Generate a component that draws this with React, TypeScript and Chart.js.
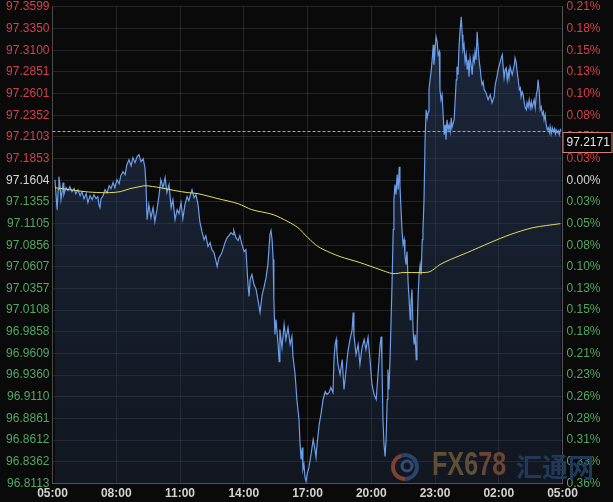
import React, { useEffect, useRef } from 'react';
import { Chart, registerables } from 'chart.js';

Chart.register(...registerables);

// minutes since 05:00
const TIMES = [7,10,13,16,18,21,24,27,30,32,38,44,49,55,61,66,72,78,83,89,95,100,106,112,117,123,128,131,134,137,143,148,154,160,165,171,176,182,188,193,199,205,210,216,222,227,233,239,244,250,256,261,264,267,272,278,284,289,295,301,306,312,318,323,329,335,340,346,352,357,363,368,374,380,385,391,394,400,405,411,416,422,428,433,439,445,450,456,462,465,470,476,481,487,493,498,504,510,512,518,524,529,535,541,546,549,552,555,558,563,569,575,580,586,592,597,603,608,611,614,617,620,623,625,628,631,637,640,642,648,654,659,665,671,676,679,685,690,696,699,702,705,707,710,713,716,719,724,730,736,741,744,747,753,758,764,770,775,781,786,792,795,798,801,803,806,812,818,823,829,834,840,846,849,851,857,863,868,874,880,885,891,897,902,908,914,919,925,928,930,933,936,939,942,945,947,950,953,956,959,962,964,967,970,973,976,979,981,984,987,990,993,995,998,1001,1004,1007,1010,1012,1015,1018,1021,1024,1027,1029,1032,1035,1038,1041,1044,1046,1049,1052,1055,1058,1061,1063,1066,1069,1072,1075,1077,1080,1083,1086,1089,1092,1094,1097,1100,1103,1106,1109,1111,1114,1117,1120,1123,1126,1128,1134,1137,1140,1142,1145,1148,1151,1154,1157,1159,1162,1165,1168,1171,1174,1176,1179,1182,1185,1188,1191,1193,1196,1199,1202,1205,1208,1210,1213,1216,1219,1224,1230,1236,1241,1247,1250,1253,1256,1258,1264,1267,1270,1272,1275,1278,1281,1284,1287,1289,1292,1298,1304,1306,1309,1312,1315,1318,1321,1323,1326,1329,1332,1335,1338,1340,1343,1346,1349,1352,1354,1357,1360,1363,1366,1369,1371,1374,1377,1380,1383,1386,1388,1391,1394,1397,1400,1403,1405,1408,1411,1414,1417,1420,1422,1425,1428,1431,1434,1436];

const PRICES = [97.1610,97.1438,97.1265,97.1495,97.1645,97.1553,97.1380,97.1472,97.1576,97.1438,97.1518,97.1484,97.1530,97.1472,97.1507,97.1449,97.1495,97.1426,97.1472,97.1392,97.1449,97.1346,97.1426,97.1380,97.1438,97.1392,97.1415,97.1323,97.1288,97.1392,97.1426,97.1495,97.1461,97.1541,97.1507,97.1576,97.1518,97.1610,97.1564,97.1656,97.1702,97.1668,97.1783,97.1840,97.1771,97.1863,97.1806,97.1875,97.1898,97.1817,97.1852,97.1748,97.1553,97.1150,97.1323,97.1173,97.1288,97.1127,97.1265,97.1438,97.1610,97.1518,97.1633,97.1461,97.1553,97.1288,97.1380,97.1150,97.1265,97.1219,97.1346,97.1162,97.1323,97.1415,97.1369,97.1461,97.1495,97.1403,97.1438,97.1323,97.1127,97.1012,97.0920,97.0966,97.0840,97.0886,97.0805,97.0771,97.0667,97.0610,97.0713,97.0748,97.0805,97.0886,97.0943,97.0966,97.1001,97.0978,97.1024,97.0943,97.0909,97.0966,97.0863,97.0782,97.0805,97.0610,97.0403,97.0265,97.0460,97.0518,97.0403,97.0345,97.0230,97.0081,97.0288,97.0368,97.0483,97.0633,97.0805,97.0978,97.1024,97.0920,97.0690,97.0230,96.9828,97.0000,96.9713,96.9517,96.9885,96.9678,96.9943,96.9770,96.9908,96.9713,96.9805,96.9575,96.9368,96.9080,96.8850,96.8563,96.8390,96.8528,96.8275,96.8333,96.8183,96.8137,96.8218,96.8298,96.8448,96.8620,96.8505,96.8413,96.8563,96.8793,96.8908,96.9080,96.9172,96.9138,96.9161,96.9218,96.9161,96.9563,96.9713,96.9770,96.9632,96.9483,96.9368,96.9540,96.9195,96.9425,96.9632,96.9770,96.9885,97.0081,96.9828,96.9598,96.9713,96.9483,96.9678,96.9770,96.9655,96.9793,96.9517,96.9253,96.9138,96.9080,96.9368,96.9713,96.9805,96.9540,96.8850,96.8563,96.8425,96.8620,96.9080,96.9425,96.9195,96.9540,97.0000,97.0460,97.1035,97.1380,97.1553,97.1438,97.1668,97.1495,97.1760,97.1553,97.1265,97.1012,97.0863,97.0920,97.0748,97.0633,97.0782,97.0426,97.0230,97.0000,97.0173,97.0345,96.9885,96.9713,96.9828,96.9540,96.9770,97.0230,97.0518,97.0633,97.0518,97.0920,97.1035,97.1380,97.2070,97.2415,97.2323,97.2392,97.2645,97.2760,97.2852,97.2990,97.3163,97.2933,97.3105,97.3255,97.3197,97.3048,97.3082,97.2645,97.2530,97.2588,97.2358,97.2128,97.2243,97.2070,97.2300,97.2185,97.2243,97.2162,97.2323,97.2208,97.2300,97.2530,97.2760,97.2910,97.2818,97.3163,97.3335,97.3485,97.3278,97.3105,97.3163,97.2967,97.3048,97.2875,97.2990,97.2795,97.3013,97.2933,97.2818,97.3025,97.2967,97.3082,97.2990,97.3312,97.3105,97.2967,97.2875,97.2783,97.2703,97.2737,97.2645,97.2611,97.2530,97.2588,97.2496,97.2565,97.2703,97.2760,97.2818,97.2875,97.2967,97.3013,97.3048,97.2933,97.2783,97.2875,97.2898,97.2760,97.2852,97.2783,97.2910,97.2818,97.2933,97.3013,97.2967,97.2852,97.2760,97.2645,97.2668,97.2565,97.2622,97.2588,97.2496,97.2438,97.2415,97.2496,97.2450,97.2530,97.2438,97.2507,97.2438,97.2484,97.2530,97.2438,97.2588,97.2645,97.2760,97.2645,97.2415,97.2450,97.2358,97.2392,97.2300,97.2358,97.2243,97.2185,97.2208,97.2151,97.2220,97.2139,97.2208,97.2162,97.2197,97.2139,97.2185,97.2151,97.2174,97.2128,97.2185,97.2171];

const MA_TIMES = [7,49,92,134,162,191,219,247,261,304,346,383,411,467,524,563,623,665,693,721,750,784,812,868,925,961,990,1038,1066,1094,1123,1171,1236,1292,1357,1434];
const MA_PRICES = [97.1518,97.1495,97.1472,97.1461,97.1461,97.1472,97.1507,97.1530,97.1541,97.1518,97.1484,97.1461,97.1449,97.1392,97.1334,97.1265,97.1208,97.1127,97.1058,97.0943,97.0840,97.0771,97.0725,97.0656,97.0575,97.0529,97.0541,97.0541,97.0552,97.0633,97.0690,97.0771,97.0886,97.0978,97.1058,97.1104];

const Y_TICKS = [96.8113,96.8362,96.8612,96.8861,96.9110,96.9360,96.9609,96.9858,97.0108,97.0357,97.0607,97.0856,97.1105,97.1355,97.1604,97.1853,97.2103,97.2352,97.2601,97.2851,97.3100,97.3350,97.3599];
const PCT_LABELS = ['0.36%','0.33%','0.31%','0.28%','0.26%','0.23%','0.21%','0.18%','0.15%','0.13%','0.10%','0.08%','0.05%','0.03%','0.00%','0.03%','0.05%','0.08%','0.10%','0.13%','0.15%','0.18%','0.21%'];
const X_TICKS = [0,180,360,540,720,900,1080,1260,1440];
const X_LABELS = ['05:00','08:00','11:00','14:00','17:00','20:00','23:00','02:00','05:00'];
const BASE_PRICE = 97.1604;
const LAST_PRICE = 97.2171;

const FONT = 'Arial, "Liberation Sans", sans-serif';
const RED = '#d4404e';
const GREEN = '#52a862';
const WHITE = '#d6d6d6';
const GRID = 'rgba(255,255,255,0.11)';
const CLEAR = 'rgba(0,0,0,0)';

const colorFor = (v: number) => (Math.abs(v - BASE_PRICE) < 1e-6 ? WHITE : v > BASE_PRICE ? RED : GREEN);

export default function App() {
  const ref = useRef<HTMLCanvasElement | null>(null);
  useEffect(() => {
    document.body.style.margin = '0';
    document.body.style.background = '#0a0a0a';
    const canvas = ref.current!;
    const bg = {
      id: 'bg',
      beforeDraw(chart: any) {
        const c = chart.ctx;
        c.save();
        c.fillStyle = '#0a0a0a';
        c.fillRect(0, 0, chart.width, chart.height);
        c.restore();
      },
    };
    const watermark = {
      id: 'watermark',
      beforeDatasetsDraw(chart: any) {
        const c = chart.ctx;
        c.save();
        c.lineWidth = 4;
        c.strokeStyle = '#2c4a74';
        c.beginPath();
        c.arc(405, 467, 12, -Math.PI * 0.6, Math.PI * 0.5);
        c.stroke();
        c.strokeStyle = '#a8461f';
        c.beginPath();
        c.arc(405, 467, 12, Math.PI * 0.5, Math.PI * 1.4);
        c.stroke();
        c.lineWidth = 3;
        c.strokeStyle = '#3a5a86';
        c.beginPath();
        c.arc(407, 466, 5, 0, Math.PI * 2);
        c.stroke();
        c.textBaseline = 'middle';
        c.textAlign = 'left';
        c.save();
        c.translate(432, 466);
        c.scale(0.74, 1);
        c.font = 'bold 34px ' + FONT;
        c.fillStyle = '#7c5a26';
        c.fillText('FX6', 0, 0);
        const w = c.measureText('FX6').width;
        c.fillStyle = '#8f4a22';
        c.fillText('78', w, 0);
        c.restore();
        c.font = 'bold 26px "Noto Sans CJK SC", sans-serif';
        c.fillStyle = '#213a5c';
        c.fillText('汇通网', 516, 467);
        c.restore();
      },
    };
    const lastPrice = {
      id: 'lastPrice',
      afterDatasetsDraw(chart: any) {
        const c = chart.ctx;
        const { left, right } = chart.chartArea;
        const y = Math.round(chart.scales.y.getPixelForValue(LAST_PRICE)) + 0.5;
        c.save();
        c.strokeStyle = '#ff8c36';
        c.lineWidth = 1;
        c.setLineDash([3, 2]);
        c.beginPath();
        c.moveTo(left, y);
        c.lineTo(right, y);
        c.stroke();
        c.setLineDash([]);
        c.fillStyle = '#050505';
        c.fillRect(right + 0.5, y + 1, 49, 20);
        c.strokeStyle = '#d98070';
        c.strokeRect(right + 0.5, y + 1, 49, 20);
        c.fillStyle = '#e4e4e4';
        c.font = '12px ' + FONT;
        c.textBaseline = 'middle';
        c.textAlign = 'left';
        c.fillText(LAST_PRICE.toFixed(4), right + 4, y + 11.5);
        c.restore();
      },
    };
    const chart = new Chart(canvas, {
      type: 'line',
      data: {
        datasets: [
          {
            label: 'MA',
            data: MA_TIMES.map((t, i) => ({ x: t, y: MA_PRICES[i] })),
            borderColor: '#e6dc5c',
            borderWidth: 1,
            pointRadius: 0,
            fill: false,
            tension: 0.3,
            yAxisID: 'y',
          },
          {
            label: 'Price',
            data: TIMES.map((t, i) => ({ x: t, y: PRICES[i] })),
            borderColor: '#6b9de8',
            borderWidth: 1.2,
            pointRadius: 0,
            tension: 0,
            fill: 'start',
            backgroundColor: (ctx: any) => {
              const ch = ctx.chart;
              const area = ch.chartArea;
              if (!area) return 'rgba(40,60,95,0.4)';
              const g = ch.ctx.createLinearGradient(0, area.top, 0, area.bottom);
              g.addColorStop(0, 'rgba(42,64,102,0.55)');
              g.addColorStop(1, 'rgba(36,54,86,0.3)');
              return g;
            },
            yAxisID: 'y',
          },
        ],
      },
      options: {
        responsive: false,
        animation: false,
        devicePixelRatio: 1,
        layout: { padding: 0 },
        plugins: { legend: { display: false }, tooltip: { enabled: false } },
        scales: {
          x: {
            type: 'linear',
            min: 0,
            max: 1440,
            afterBuildTicks: (s: any) => {
              s.ticks = X_TICKS.map((v) => ({ value: v }));
            },
            afterFit: (s: any) => {
              s.height = 18.5;
            },
            ticks: {
              autoSkip: false,
              maxRotation: 0,
              padding: 3,
              color: '#d2d2d2',
              font: { size: 12, family: FONT, weight: 'bold' },
              callback: (_v: any, i: number) => X_LABELS[i],
            },
            grid: { color: GRID, drawTicks: false },
            border: { color: 'rgba(255,255,255,0.22)' },
          },
          y: {
            position: 'left',
            min: Y_TICKS[0],
            max: Y_TICKS[Y_TICKS.length - 1],
            afterBuildTicks: (s: any) => {
              s.ticks = Y_TICKS.map((v) => ({ value: v }));
            },
            afterFit: (s: any) => {
              s.width = 52.5;
            },
            ticks: {
              autoSkip: false,
              padding: 0,
              color: (ctx: any) => colorFor(ctx.tick.value),
              font: { size: 12, family: FONT, lineHeight: 1.15 },
              callback: (v: any) => Number(v).toFixed(4),
            },
            grid: { color: GRID, drawTicks: true, tickLength: 3, tickColor: CLEAR },
            border: { color: 'rgba(255,255,255,0.18)' },
          },
          y2: {
            position: 'right',
            min: Y_TICKS[0],
            max: Y_TICKS[Y_TICKS.length - 1],
            afterBuildTicks: (s: any) => {
              s.ticks = Y_TICKS.map((v) => ({ value: v }));
            },
            afterFit: (s: any) => {
              s.width = 50.5;
            },
            ticks: {
              autoSkip: false,
              padding: 0,
              color: (ctx: any) => colorFor(ctx.tick.value),
              font: { size: 12, family: FONT, lineHeight: 1.15 },
              callback: (_v: any, i: number) => PCT_LABELS[i],
            },
            grid: { color: CLEAR, drawTicks: true, tickLength: 4, tickColor: CLEAR, drawOnChartArea: false },
            border: { color: 'rgba(255,255,255,0.22)' },
          },
        },
      },
      plugins: [bg, watermark, lastPrice],
    });
    return () => chart.destroy();
  }, []);
  return (
    <div style={{ position: 'fixed', left: 0, top: 0, width: 613, height: 502 }}>
      <canvas ref={ref} width={613} height={502} style={{ display: 'block', width: 613, height: 502 }} />
    </div>
  );
}
